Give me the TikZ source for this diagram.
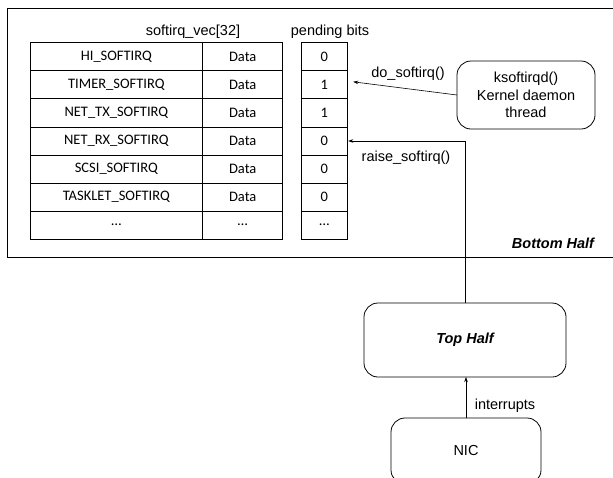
\documentclass[tikz,border=0pt]{standalone}
\usepackage{fontspec}
\setmainfont{Liberation Sans}
\newfontfamily\tblfont{Carlito}
\usetikzlibrary{arrows.meta}
\begin{document}
\begin{tikzpicture}[x=1pt,y=-1pt,
  line width=0.8pt,
  cell/.style={draw, inner sep=0pt, outer sep=0pt, minimum height=28.08pt, font=\tblfont\fontsize{14.5}{16}\selectfont},
  namecell/.style={cell, minimum width=172.7pt},
  datacell/.style={cell, minimum width=80pt},
  pendcell/.style={cell, minimum width=46.7pt},
  rbox/.style={draw, rounded corners=14pt, inner sep=0pt, outer sep=0pt, align=center, font=\fontsize{14.5}{17.5}\selectfont},
  lbl/.style={font=\fontsize{14.5}{17}\selectfont, inner sep=0pt},
  arr/.style={-{Stealth[length=5pt,width=3.5pt]}, line width=0.6pt}
]
\useasboundingbox (0,0) rectangle (613,477);
% outer Bottom Half frame
\draw[line width=0.9pt] (7,8) -- (625,8) (7,8) -- (7,257) -- (625,257);
\node[lbl, font=\bfseries\itshape\fontsize{14.5}{17}\selectfont] (bh) at (553,243) {Bottom Half};
% headers
\node[lbl] (hvec) at (193,32) {softirq\_vec[32]};
\node[lbl] (hpend) at (330,32) {pending bits};
% table
\foreach \i/\nm/\d/\p in {1/HI\_SOFTIRQ/Data/0, 2/TIMER\_SOFTIRQ/Data/1, 3/NET\_TX\_SOFTIRQ/Data/1, 4/NET\_RX\_SOFTIRQ/Data/0, 5/SCSI\_SOFTIRQ/Data/0, 6/TASKLET\_SOFTIRQ/Data/0, 7/…/…/…}{
  \pgfmathsetmacro{\yy}{42.7+28.08*(\i-0.5)}
  \node[namecell] (n\i) at (116.35,\yy) {\nm};
  \node[datacell] (d\i) at (242.7,\yy) {\d};
  \node[pendcell] (p\i) at (324.35,\yy) {\p};
}
% ksoftirqd box
\node[rbox, minimum width=138pt, minimum height=68pt] (ks) at (526,95) {ksoftirqd()\\Kernel daemon\\thread};
% Top Half
\node[rbox, minimum width=202pt, minimum height=74pt, font=\bfseries\itshape\fontsize{14.5}{17}\selectfont] (top) at (465,340) {Top Half};
% NIC
\node[rbox, minimum width=150pt, minimum height=66pt] (nic) at (466,451) {NIC};
% connectors
\coordinate (dotip) at ([xshift=5.5pt,yshift=3pt]p2.east);
\draw[arr] (ks.west) -- (dotip);
\node[lbl] (dol) at (408,74) {do\_softirq()};
\coordinate (rtip) at ([xshift=0.5pt]p4.east);
\draw[arr] (top.north) |- (rtip);
\node[lbl] (rl) at (406,158) {raise\_softirq()};
\draw[arr] (nic.north) -- (nic.north |- top.south);
\node[lbl] (il) at (505,406) {interrupts};
\end{tikzpicture}
\end{document}
